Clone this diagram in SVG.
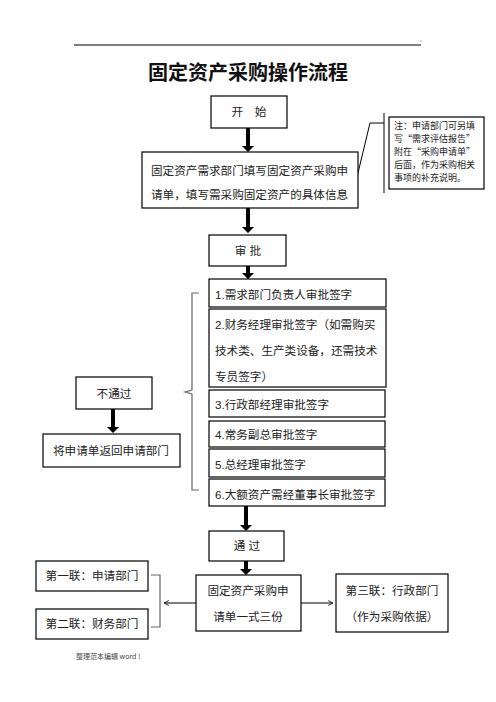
<svg xmlns="http://www.w3.org/2000/svg" width="496" height="702" viewBox="0 0 496 702">
<style>
.box{fill:#fff;stroke:#000;stroke-width:1.2}
.t{font-family:"Liberation Sans","Noto Sans CJK SC",sans-serif;font-size:11.6px;fill:#222}
.c{text-anchor:middle}
.n{font-family:"Noto Sans CJK SC",sans-serif;font-size:9px;fill:#222}
.g{fill:none;stroke:#666;stroke-width:1.2}
.ga{fill:none;stroke:#555;stroke-width:1.5}
</style>
<defs>
<marker id="open" viewBox="0 0 10 10" refX="9" refY="5" markerWidth="6" markerHeight="6" markerUnits="userSpaceOnUse" orient="auto">
<path d="M1,1 L9,5 L1,9" fill="none" stroke="#222" stroke-width="1.6"/>
</marker>
</defs>
<line x1="74" y1="45" x2="421" y2="45" stroke="#000" stroke-width="1"/>
<circle cx="421" cy="41" r="0.5" fill="#555"/>
<text x="248" y="80" text-anchor="middle" font-family="Noto Sans CJK SC,sans-serif" font-size="20" font-weight="bold" fill="#111">固定资产采购操作流程</text>

<g id="connectors">
<g fill="#000">
<path d="M246,128 h4 v18 h4 l-6,6 l-6,-6 h4 z"/>
<path d="M246,208 h4 v19 h4 l-6,6 l-6,-6 h4 z"/>
<path d="M246,266 h4 v7 h4 l-6,6 l-6,-6 h4 z"/>
<path d="M111,409 h4 v18 h4 l-6,6 l-6,-6 h4 z"/>
<path d="M244,506 h4 v19 h4 l-6,6 l-6,-6 h4 z"/>
<path d="M244,561 h4 v8 h4 l-6,6 l-6,-6 h4 z"/>
</g>
<path class="g" d="M199,293 h-7 v97 l-7,2 l7,2 v96 h7"/>
<path class="g" d="M151,575 h9 v52 h-9"/>
<line class="ga" x1="196" y1="603" x2="164" y2="603" marker-end="url(#open)"/>
<line class="ga" x1="301" y1="603" x2="333" y2="603" marker-end="url(#open)"/>
<path d="M384,113 V193 M384,123 H370 L357,177" fill="none" stroke="#000" stroke-width="1"/>
</g>

<g id="start"><rect class="box" x="211" y="96" width="76" height="32"/><text class="t c" x="249" y="116">开　始</text></g>
<g id="fill"><rect class="box" x="142" y="152" width="216" height="56"/>
<text class="t" x="151" y="175">固定资产需求部门填写固定资产采购申</text>
<text class="t" x="151" y="199">请单，填写需采购固定资产的具体信息</text></g>
<g id="note"><rect class="box" x="389" y="117" width="95" height="72" stroke-width="1"/>
<text class="n" x="394" y="129">注：申请部门可另填</text>
<text class="n" x="394" y="142">写“需求评估报告”</text>
<text class="n" x="394" y="155">附在“采购申请单”</text>
<text class="n" x="394" y="168">后面，作为采购相关</text>
<text class="n" x="394" y="181">事项的补充说明。</text></g>
<g id="approve"><rect class="box" x="209" y="235" width="77" height="31"/><text class="t c" x="248" y="255">审 批</text></g>
<g id="s1"><rect class="box" x="209" y="279" width="177" height="28"/><text class="t" x="215" y="299">1.需求部门负责人审批签字</text></g>
<g id="s2"><rect class="box" x="209" y="309" width="177" height="78"/>
<text class="t" x="215" y="329">2.财务经理审批签字（如需购买</text>
<text class="t" x="215" y="355">技术类、生产类设备，还需技术</text>
<text class="t" x="215" y="381">专员签字）</text></g>
<g id="s3"><rect class="box" x="209" y="390" width="176" height="27"/><text class="t" x="215" y="409">3.行政部经理审批签字</text></g>
<g id="s4"><rect class="box" x="209" y="421" width="176" height="26"/><text class="t" x="215" y="439">4.常务副总审批签字</text></g>
<g id="s5"><rect class="box" x="209" y="449" width="176" height="28"/><text class="t" x="215" y="469">5.总经理审批签字</text></g>
<g id="s6"><rect class="box" x="209" y="479" width="176" height="27"/><text class="t" x="215" y="499">6.大额资产需经董事长审批签字</text></g>
<g id="reject"><rect class="box" x="76" y="377" width="76" height="32"/><text class="t c" x="114" y="398">不通过</text></g>
<g id="return"><rect class="box" x="43" y="434" width="137" height="33"/><text class="t c" x="111" y="455">将申请单返回申请部门</text></g>
<g id="pass"><rect class="box" x="209" y="531" width="75" height="30"/><text class="t c" x="247" y="550">通 过</text></g>
<g id="form"><rect class="box" x="196" y="575" width="105" height="56"/>
<text class="t c" x="248" y="595">固定资产采购申</text>
<text class="t c" x="248" y="621">请单一式三份</text></g>
<g id="copy1"><rect class="box" x="36" y="561" width="112" height="30"/><text class="t c" x="92" y="580">第一联：申请部门</text></g>
<g id="copy2"><rect class="box" x="36" y="609" width="112" height="30"/><text class="t c" x="92" y="628">第二联：财务部门</text></g>
<g id="copy3"><rect class="box" x="336" y="574" width="112" height="58"/>
<text class="t c" x="392" y="595">第三联：行政部门</text>
<text class="t c" x="392" y="621">（作为采购依据）</text></g>
<text x="76" y="659" font-family="Noto Sans CJK SC,sans-serif" font-size="7" fill="#444">整理范本编辑 word !</text>
</svg>
